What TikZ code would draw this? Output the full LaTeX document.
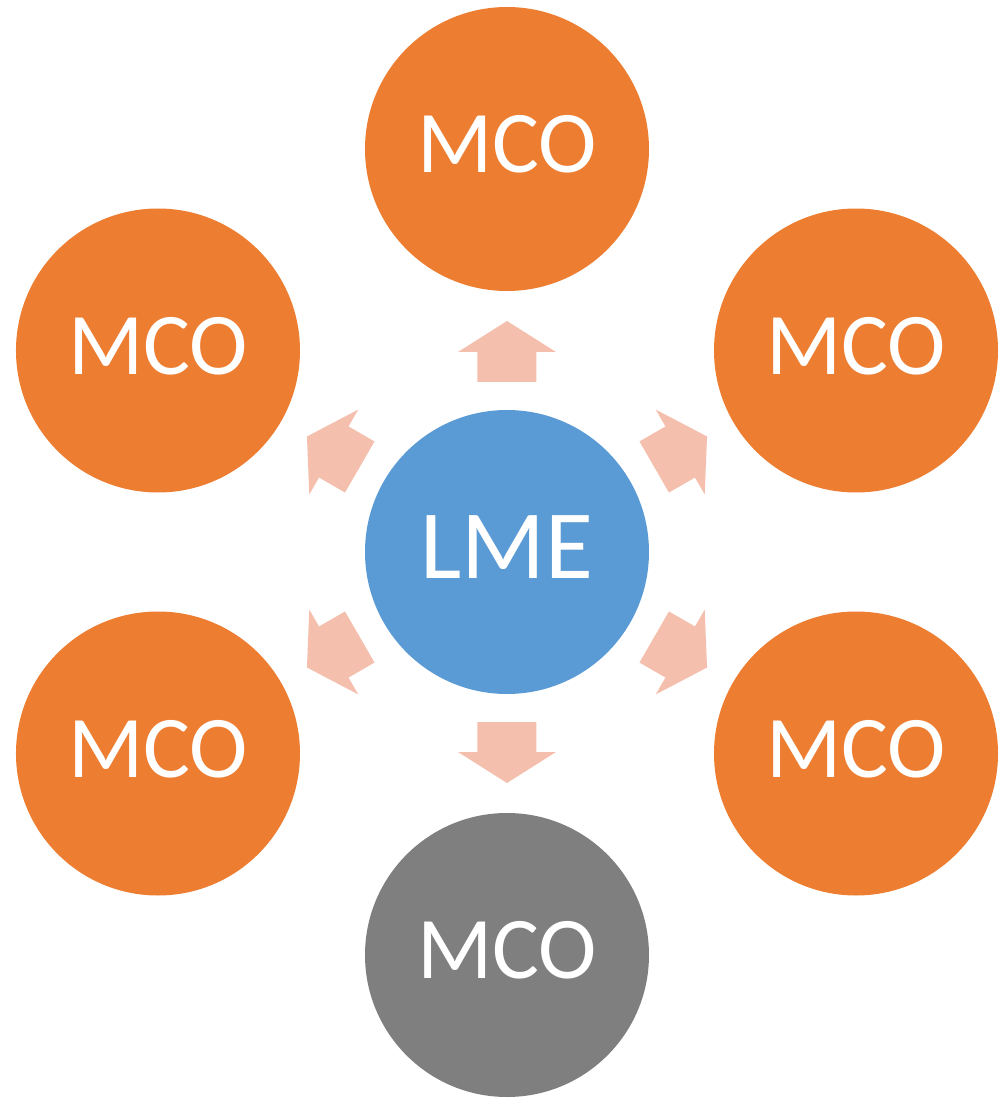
\documentclass[tikz,border=0pt]{standalone}
\usepackage{fontspec}
\usepackage{tikz}
\usetikzlibrary{arrows.meta}
\newfontfamily\calfont{Carlito}
\definecolor{mcoorange}{HTML}{ED7D31}
\definecolor{lmeblue}{HTML}{5B9BD5}
\definecolor{mcogray}{HTML}{7F7F7F}
\definecolor{arrowpink}{HTML}{F4BFAD}

\begin{document}
\begin{tikzpicture}
				[x=1pt, y=1pt,
				disc/.style={circle, minimum size=284pt, inner sep=0pt, text=white, text depth=10pt},
				mco/.style={disc, fill=mcoorange, font=\calfont\fontsize{88}{90}\selectfont},
				lme/.style={disc, fill=lmeblue, font=\calfont\fontsize{98}{100}\selectfont},
				blockarrow/.style={fill=arrowpink}]
				\useasboundingbox (-507,-546) rectangle (496,552);
				\node[lme] (lme) at (0,0) {LME};
				\node[mco] (top) at (90:403) {MCO};
				\node[mco] (upright) at (30:403) {MCO};
				\node[mco] (upleft) at (150:403) {MCO};
				\node[mco] (lowleft) at (210:403) {MCO};
				\node[mco] (lowright) at (330:403) {MCO};
				\node[mco, fill=mcogray] (bottom) at (270:403) {MCO};
				\foreach \a in {30,90,...,330}
				{
					\fill[blockarrow, rotate=\a] (170,-29.5) -- (200,-29.5) -- (200,-49) -- (231,0)
						-- (200,49) -- (200,29.5) -- (170,29.5) -- cycle;
				}
				\end{tikzpicture}
\end{document}
